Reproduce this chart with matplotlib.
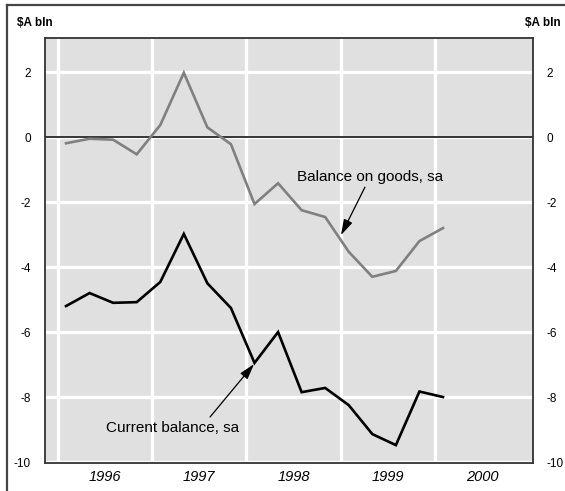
import matplotlib
matplotlib.use("Agg")
import matplotlib.pyplot as plt
from matplotlib.lines import Line2D
import numpy as np

plt.rcParams['font.family'] = ['Liberation Sans', 'DejaVu Sans']

# Quarterly data, 1996 Q1 .. 2000 Q1
quarters = ["1996Q1", "1996Q2", "1996Q3", "1996Q4",
            "1997Q1", "1997Q2", "1997Q3", "1997Q4",
            "1998Q1", "1998Q2", "1998Q3", "1998Q4",
            "1999Q1", "1999Q2", "1999Q3", "1999Q4",
            "2000Q1"]
balance_on_goods = [-0.19, -0.05, -0.08, -0.53, 0.37, 1.98, 0.30, -0.22,
                    -2.06, -1.42, -2.25, -2.46, -3.53, -4.30, -4.12, -3.20, -2.80]
current_balance = [-5.20, -4.80, -5.10, -5.08, -4.46, -2.98, -4.50, -5.26,
                   -6.95, -6.00, -7.85, -7.72, -8.25, -9.14, -9.48, -7.83, -8.00]
year_labels = ["1996", "1997", "1998", "1999", "2000"]
y_ticks = [-10, -8, -6, -4, -2, 0, 2]
unit_label = "$A bln"

def q_to_x(q):
    yr = int(q[:4]); n = int(q[-1])
    return yr + (n - 1) * 0.25 + 0.085

x = np.array([q_to_x(q) for q in quarters])
years = np.array([int(y) for y in year_labels])

fig = plt.figure(figsize=(5.65, 4.91), dpi=100)
ax = fig.add_axes([45/565, 1-463/491, (533-45)/565, (463-38)/491])
ax.set_facecolor('#e0e0e0')

ax.set_xlim(1995.862, 2001.04)
ax.set_ylim(-10.03, 3.05)

# grid
ax.set_xticks(years)
ax.set_xticks(years + 0.5, minor=True)
ax.set_xticklabels([])
ax.set_xticklabels(year_labels, minor=True, fontstyle='italic', fontsize=10.5)
ax.tick_params(axis='x', which='both', length=0)
ax.tick_params(axis='x', which='minor', pad=5)
ax.set_yticks(y_ticks)
ax.set_yticklabels([str(v) for v in y_ticks], fontsize=8.5)
ax.tick_params(axis='y', length=0, pad=10, labelleft=True, labelright=True)
ax.grid(True, which='major', color='white', lw=2.3)
ax.set_axisbelow(True)
ax.axhline(0, color='black', lw=1.1, zorder=2)

for s in ax.spines.values():
    s.set_color('#333333')
    s.set_linewidth(1.3)

ax.plot(x, balance_on_goods, color='#808080', lw=1.9, zorder=3, solid_joinstyle='miter')
ax.plot(x, current_balance, color='black', lw=1.9, zorder=3, solid_joinstyle='miter')

arrow = dict(arrowstyle='-|>,head_length=0.95,head_width=0.28', color='black', lw=0.9,
             shrinkA=0, shrinkB=0)
ax.annotate('', xy=(1999.003, -3.015), xytext=(1999.257, -1.54), arrowprops=arrow, zorder=4)
ax.text(1998.536, -1.23, 'Balance on goods, sa', ha='left', va='center', fontsize=11)
ax.annotate('', xy=(1998.08, -6.985), xytext=(1997.613, -8.615), arrowprops=arrow, zorder=4)
ax.text(1996.509, -8.95, 'Current balance, sa', ha='left', va='center', fontsize=11)

fig.text(17/565, 1-23/491, unit_label, ha='left', va='center', fontsize=8.5, fontweight='bold')
fig.text(561/565, 1-23/491, unit_label, ha='right', va='center', fontsize=8.5, fontweight='bold')

# figure frame (top and left)
fig.add_artist(Line2D([7/565, 1], [1-5/491, 1-5/491], transform=fig.transFigure,
                      color='#444444', lw=1.6))
fig.add_artist(Line2D([7/565, 7/565], [0, 1-5/491], transform=fig.transFigure,
                      color='#444444', lw=1.6))

fig.savefig('out.png', dpi=100)
